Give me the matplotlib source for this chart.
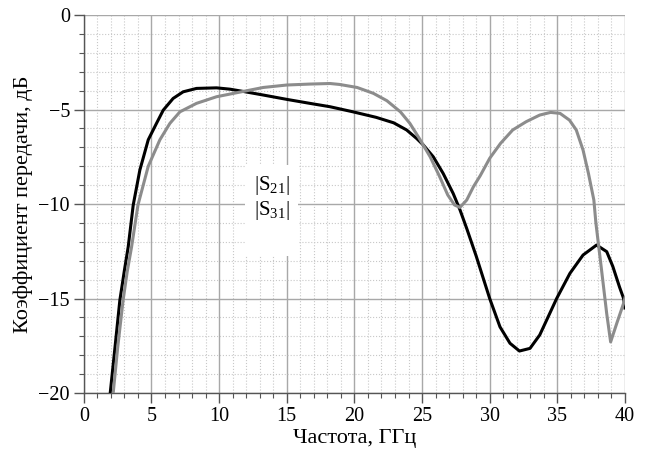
import numpy as np
import matplotlib.pyplot as plt
from matplotlib.patches import Rectangle
from matplotlib.ticker import MultipleLocator

plt.rcParams['font.family'] = ['Liberation Serif', 'DejaVu Serif']
plt.rcParams['mathtext.fontset'] = 'custom'
plt.rcParams['mathtext.rm'] = 'Liberation Serif'

# |S21|, dB
f_s21 = [1.95, 2.3, 2.66, 3.0, 3.28, 3.65, 4.14, 4.76, 5.37, 5.87, 6.6, 7.34,
         8.33, 9.81, 10.8, 11.78, 13.26, 15.0, 16.7, 18.2, 19.9, 21.6, 22.9, 23.86,
         24.6, 25.1, 25.83, 26.56, 27.3, 27.8, 28.3, 29.0, 30.0, 30.76, 31.5, 32.2,
         32.98, 33.7, 34.95, 35.93, 36.9, 37.9, 38.65, 39.1, 39.6, 39.9, 40.0]
s21 = [-20.0, -17.6, -15.1, -13.5, -12.26, -10.05, -8.2, -6.6, -5.73, -5.03, -4.41, -4.06,
       -3.88, -3.85, -3.92, -4.04, -4.23, -4.46, -4.67, -4.85, -5.12, -5.41, -5.7, -6.08,
       -6.53, -6.88, -7.5, -8.38, -9.44, -10.3, -11.29, -12.75, -15.0, -16.5, -17.37, -17.78,
       -17.64, -16.93, -15.0, -13.67, -12.7, -12.17, -12.52, -13.3, -14.4, -15.0, -15.5]

# |S31|, dB
f_s31 = [2.17, 2.5, 2.9, 3.2, 3.53, 4.0, 4.76, 5.62, 6.36, 7.1, 8.33, 9.81,
         11.78, 13.26, 15.0, 16.7, 18.2, 18.9, 20.2, 21.4, 22.4, 23.4, 24.1, 24.8,
         25.6, 26.3, 26.9, 27.4, 27.8, 28.3, 28.8, 29.3, 30.0, 30.8, 31.7, 32.7,
         33.7, 34.5, 35.2, 35.9, 36.4, 36.9, 37.3, 37.7, 37.85, 38.27, 38.65, 38.94,
         39.4, 39.9, 40.0]
s31 = [-20.0, -17.6, -15.1, -13.6, -12.26, -10.05, -8.0, -6.6, -5.73, -5.12, -4.67, -4.32,
       -4.04, -3.83, -3.7, -3.65, -3.62, -3.67, -3.83, -4.14, -4.53, -5.12, -5.73, -6.53,
       -7.5, -8.55, -9.52, -10.05, -10.18, -9.79, -9.08, -8.5, -7.58, -6.79, -6.08, -5.64,
       -5.29, -5.15, -5.2, -5.56, -6.08, -7.14, -8.38, -9.79, -11.0, -13.5, -15.8, -17.3,
       -16.3, -15.25, -14.95]

fig = plt.figure(figsize=(6.5, 4.58), dpi=100)
ax = fig.add_axes([0.129, 0.142, 0.8325, 0.825])

ax.plot(f_s21, s21, color='black', lw=2.2, label=r'$|\mathrm{S}_{21}|$', zorder=3,
        solid_joinstyle='round')
ax.plot(f_s31, s31, color='#8c8c8c', lw=2.2, label=r'$|\mathrm{S}_{31}|$', zorder=3,
        solid_joinstyle='round')

ax.set_xlim(0, 40)
ax.set_ylim(-20, 0)
ax.xaxis.set_major_locator(MultipleLocator(5))
ax.xaxis.set_minor_locator(MultipleLocator(1))
ax.yaxis.set_major_locator(MultipleLocator(5))
ax.yaxis.set_minor_locator(MultipleLocator(1))

ax.grid(which='major', color='#a8a8a8', lw=1.0, ls='-')
ax.grid(which='minor', color='#c8c8c8', lw=0.8, ls=':')
ax.set_axisbelow(True)

for side in ['top', 'right']:
    ax.spines[side].set_visible(False)
for side in ['left', 'bottom']:
    ax.spines[side].set_color('#555555')
    ax.spines[side].set_linewidth(1.0)

ax.tick_params(which='major', direction='out', length=7, width=1.0, color='#555555',
               labelsize=14.5, pad=3)
ax.tick_params(which='minor', direction='out', length=3.5, width=0.8, color='#555555')

ax.set_xlabel('Частота, ГГц', fontsize=16, labelpad=2)
ax.set_ylabel('Коэффициент передачи, дБ', fontsize=16, labelpad=4)

# white backing behind the legend, hides the grid there
ax.add_patch(Rectangle((0.2976, 0.362), 0.098, 0.241, transform=ax.transAxes,
                       facecolor='white', edgecolor='none', zorder=2))
leg = ax.legend(loc='upper left', bbox_to_anchor=(0.314, 0.58), fontsize=15,
                handlelength=0, handletextpad=0, frameon=False,
                borderpad=0, borderaxespad=0, labelspacing=0.1)
leg.set_zorder(4)
for h in leg.legend_handles:
    h.set_visible(False)

fig.savefig('out.png', dpi=100)
